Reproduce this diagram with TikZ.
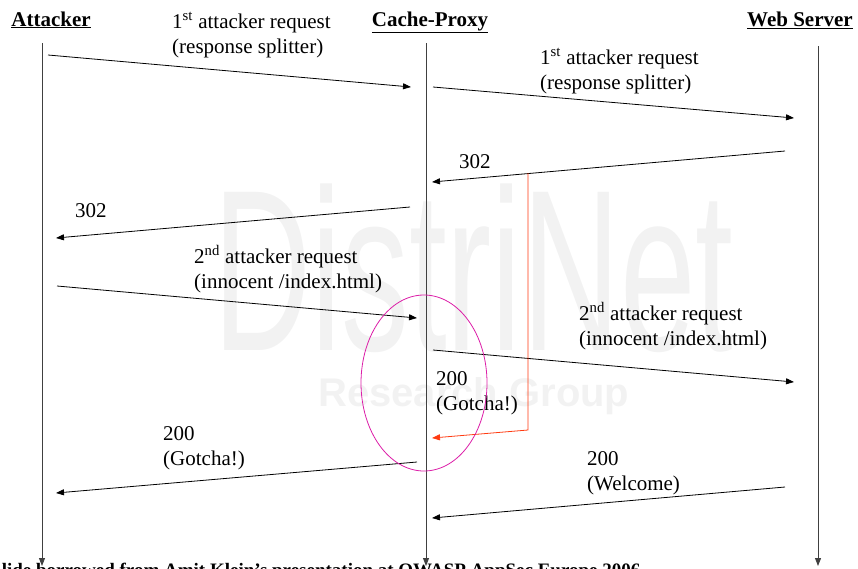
\documentclass[tikz,border=0pt]{standalone}
\usepackage{fontspec}
\setmainfont{Liberation Serif}
\newfontfamily\markfont{Liberation Sans}
\usetikzlibrary{arrows.meta, positioning, calc}
\definecolor{splitred}{HTML}{FF3A10}
\definecolor{ringpink}{HTML}{DC1EA8}
\definecolor{markgray}{HTML}{F2F2F2}
\tikzset{
  actor/.style = {inner sep=0pt, anchor=base, font=\fontsize{21}{24}\selectfont\bfseries},
  msgText/.style = {inner sep=0pt, anchor=base west, align=left,
    font=\fontsize{21}{25}\selectfont},
  life/.style = {-{Triangle[length=8pt, width=6pt]}, line width=0.9pt, draw=black!75},
  msg/.style = {-{Triangle[length=8pt, width=6pt]}, line width=0.8pt},
  splitMsg/.style = {-{Triangle[length=8pt, width=6pt]}, line width=0.8pt, draw=splitred},
  ring/.style = {line width=0.8pt, draw=ringpink},
}

\begin{document}
\begin{tikzpicture}[x=1pt, y=-1pt]
\useasboundingbox (0,0) rectangle (858,568);

% watermark
\node[inner sep=0pt, anchor=base west, text=markgray, xscale=0.59,
  font=\markfont\fontsize{230}{230}\selectfont] (logo) at (213,350) {DistriNet};
\node[inner sep=0pt, anchor=base west, text=markgray,
  font=\markfont\bfseries\fontsize{40}{40}\selectfont] (group) at (318,406) {Research Group};

% actors and lifelines
\node[actor] (att) at (51,26) {\underline{Attacker}};
\node[actor] (prx) at (430,26) {\underline{Cache-Proxy}};
\node[actor] (web) at (800,26) {\underline{Web Server}};
\coordinate (attTop) at (42,43);  \coordinate (attBot) at (42,566);
\coordinate (prxTop) at (426,43); \coordinate (prxBot) at (426,566);
\coordinate (webTop) at (818,46); \coordinate (webBot) at (818,566);
\draw[life] (attTop) -- (attBot);
\draw[life] (prxTop) -- (prxBot);
\draw[life] (webTop) -- (webBot);

% message end points
\coordinate (m1a) at (48,55);   \coordinate (m1b) at (411,87);
\coordinate (m2a) at (433,87);  \coordinate (m2b) at (794,118);
\coordinate (m3a) at (785,151); \coordinate (m3b) at (432,182);
\coordinate (m4a) at (410,207); \coordinate (m4b) at (56,238);
\coordinate (m5a) at (57,286);  \coordinate (m5b) at (417,318);
\coordinate (m6a) at (433,350); \coordinate (m6b) at (794,382);
\coordinate (m7a) at (785,487); \coordinate (m7b) at (432,518);
\coordinate (m8a) at (417,462); \coordinate (m8b) at (56,493);

\draw[msg] (m1a) -- (m1b);
\draw[msg] (m2a) -- (m2b);
\draw[msg] (m3a) -- (m3b);
\draw[msg] (m4a) -- (m4b);
\draw[msg] (m5a) -- (m5b);
\draw[msg] (m6a) -- (m6b);
\draw[msg] (m7a) -- (m7b);
\draw[msg] (m8a) -- (m8b);

% labels (base = last line)
\node[msgText] (l1) at (172,53) {1\textsuperscript{st} attacker request\\(response splitter)};
\node[msgText] (l2) at (540,89) {1\textsuperscript{st} attacker request\\(response splitter)};
\node[msgText] (l3) at (459,168) {302};
\node[msgText] (l4) at (75,217) {302};
\node[msgText] (l5) at (194,288) {2\textsuperscript{nd} attacker request\\(innocent /index.html)};
\node[msgText] (l6) at (579,345) {2\textsuperscript{nd} attacker request\\(innocent /index.html)};
\node[msgText] (l7) at (436,410) {200\\(Gotcha!)};
\node[msgText] (l8) at (163,465) {200\\(Gotcha!)};
\node[msgText] (l9) at (587,490) {200\\(Welcome)};

% split response
\coordinate (splitTop) at (528,173);
\coordinate (splitBot) at (528,430);
\coordinate (splitEnd) at (432,438);
\draw[splitMsg] (splitTop) -- (splitBot) -- (splitEnd);

\draw[ring] (424,383) ellipse [x radius=63, y radius=88];

\node[inner sep=0pt, anchor=base west, font=\fontsize{19}{19}\selectfont\bfseries]
  (credit) at (-9,576) {Slide borrowed from Amit Klein's presentation at OWASP AppSec Europe 2006};
\end{tikzpicture}
\end{document}
